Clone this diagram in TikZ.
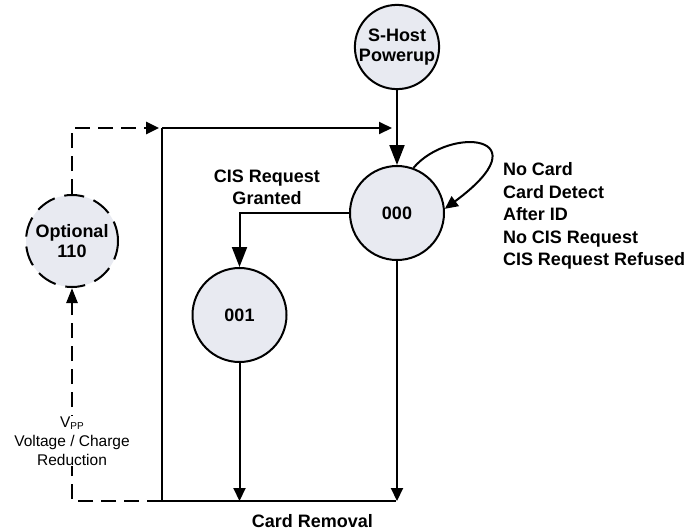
\documentclass[tikz,border=0pt]{standalone}
\usepackage{fontspec}
\setmainfont{Liberation Sans}
\usetikzlibrary{arrows.meta}
\definecolor{statefill}{RGB}{232,234,241}
\begin{document}
\begin{tikzpicture}[x=1pt,y=-1pt,
  line width=2pt,
  state/.style={circle,draw=black,line width=2pt,fill=statefill,minimum size=94pt,inner sep=0pt,
     font=\fontsize{18}{20}\selectfont\bfseries,align=center},
  optstate/.style={state,minimum size=92pt,dash pattern=on 20pt off 10pt},
  arr/.style={-{Triangle[length=13pt,width=12pt,sep=0pt]}},
  bigarr/.style={-{Triangle[length=20pt,width=15pt,sep=0pt]}},
  dasharr/.style={-{Triangle[length=15pt,width=11pt,sep=0pt]}},
  dashline/.style={line width=2.6pt,dash pattern=on 15pt off 8pt},
  boldlabel/.style={font=\fontsize{18}{22.5}\selectfont\bfseries,inner sep=0pt},
  small/.style={font=\fontsize{15.5}{19}\selectfont,inner sep=1pt,align=center}]
\useasboundingbox (0,0) rectangle (699,531);
% states
\node[state,minimum size=80pt] (host) at (397,47) {S-Host\\Powerup};
\node[state] (s000) at (397,213) {000};
\node[state] (s001) at (239.5,315) {001};
\node[optstate] (opt) at (72,241) {Optional\\110};
% coordinates
\coordinate (tl) at (162,128);
\coordinate (tr) at (392,128);
\coordinate (bl) at (162,501);
\coordinate (b1) at (239.5,501);
\coordinate (b0) at (397,501);
\coordinate (br) at (396,501);
\coordinate (gr) at (239.5,213);
\coordinate (dl) at (72,501);
\coordinate (dt) at (72,128);
\coordinate (dr) at (159,128);
% solid connectors
\draw[bigarr] (host) -- (s000);
\draw[arr] (tl) -- (tr);
\draw (tl) -- (bl) -- (br);
\draw[arr] (s001) -- (b1);
\draw[arr] (s000) -- (b0);
\draw[bigarr] (s000.west) -- (gr) -- (s001);
\draw[arr] (s000.70) .. controls (450,125) and (545,135) .. (s000.5);
% dashed connectors
\draw[dasharr,dashline] (bl) -- (dl) -- (opt);
\draw[arr,dashline] (opt) -- (dt) -- (dr);
% labels
\node[small,fill=white] (vpp) at (72,441) {V\raisebox{-2.5pt}{\fontsize{10}{10}\selectfont PP}\\Voltage / Charge\\Reduction};
\node[boldlabel,anchor=north west,align=left] (loop) at (502,161.5)
  {No Card\\Card Detect\\After ID\\No CIS Request\\CIS Request Refused};
\node[boldlabel,anchor=north,align=center] (granted) at (267,168.5) {CIS Request\\Granted};
\node[boldlabel] (removal) at (312.5,521) {Card Removal};
\end{tikzpicture}
\end{document}
